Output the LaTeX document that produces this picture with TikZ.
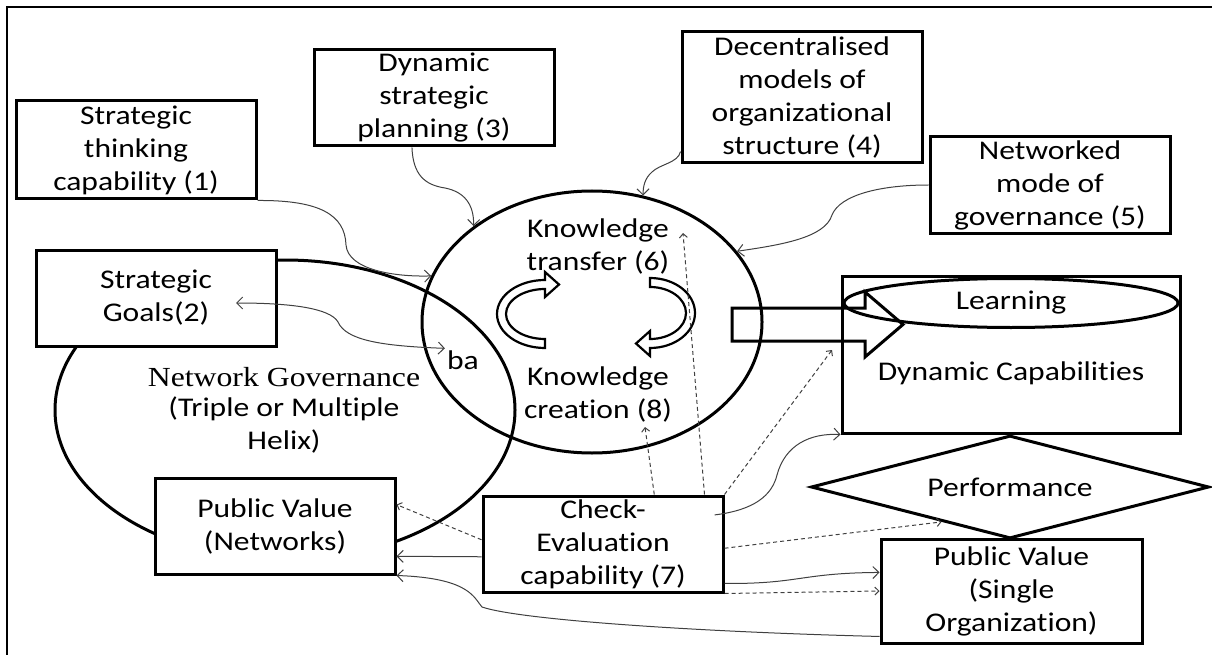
\documentclass[tikz,border=0pt]{standalone}
\usepackage{fontspec}
\setmainfont[FakeStretch=1.17,Ligatures=NoCommon]{Carlito}
\newfontfamily\tnrfont[FakeStretch=1.15]{Liberation Serif}
\usetikzlibrary{shapes.geometric,arrows.meta}
\tikzset{
  box/.style={draw,line width=3pt,fill=white,align=center,inner sep=0pt},
  oval/.style={draw,ellipse,line width=3pt,inner sep=0pt},
  con/.style={draw=black!75,line width=1pt,>={Straight Barb[length=6pt,width=12pt]},->},
  dcon/.style={con,dash pattern=on 4pt off 3pt,>={Straight Barb[length=4pt,width=8pt]}},
  blk/.style={draw,line width=2.2pt,fill=white,line join=miter},
}
\begin{document}
\begin{tikzpicture}[x=1pt,y=1pt,yscale=-1,font=\fontsize{27}{33}\selectfont]
\useasboundingbox (0,0) rectangle (1212,655);
%Frame
\draw[line width=2pt] (1212,7) -- (7,7) -- (7,655);

%Shape: Ellipse (network governance)
\node[oval,minimum width=460,minimum height=300] (ng) at (285,410) {};
%Shape: Ellipse (knowledge)
\node[oval,minimum width=340,minimum height=262] (kc) at (592,322) {};

%Shape: Rectangles
\node[box,minimum width=240,minimum height=98] (st1) at (136,150) {Strategic\\thinking\\capability (1)};
\node[box,minimum width=240,minimum height=96] (plan3) at (434,98) {Dynamic\\strategic\\planning (3)};
\node[box,minimum width=240,minimum height=131] (dec4) at (802,97.5) {Decentralised\\models of\\organizational\\structure (4)};
\node[box,minimum width=240,minimum height=96] (net5) at (1050,185) {Networked\\mode of\\governance (5)};
\node[box,minimum width=240,minimum height=96] (goal2) at (156,298) {Strategic\\Goals(2)};
\node[box,minimum width=240,minimum height=96] (pvn) at (275,526) {Public Value\\(Networks)};
\node[box,minimum width=240,minimum height=96] (chk) at (603,544) {Check-\\Evaluation\\capability (7)};
\node[box,minimum width=261,minimum height=104] (pvs) at (1011.5,591) {Public Value\\(Single\\Organization)};
\node[box,fill=none,minimum width=338,minimum height=157] (dyn) at (1011,354.5) {};
\node[oval,minimum width=334,minimum height=49] (learn) at (1011,303) {Learning};
\node[draw,diamond,line width=3pt,fill=white,inner sep=0pt,shape aspect=3.86,
  minimum width=398,minimum height=103] (perf) at (1010,487) {Performance};

% Text Node
\node (dyntxt) at (1011,373) {Dynamic Capabilities};
\node[font=\tnrfont\fontsize{27.6}{33}\selectfont] (ngt) at (284,377) {Network Governance};
\node[align=center] (ngs) at (284,425) {(Triple or Multiple\\Helix)};
\node[align=center] (kt) at (598,246) {Knowledge\\transfer (6)};
\node[align=center] (kcr) at (598,394) {Knowledge\\creation (8)};
\node[inner sep=2pt] (ba) at (463,360) {ba};

%Curved Arrows
\draw[blk] (545,348) arc[start angle=90,end angle=270,x radius=48,y radius=34] -- (545,272) -- (559,284.5) -- (545,297) -- (545,289) arc[start angle=270,end angle=90,x radius=39,y radius=25] -- cycle;
\draw[blk] (650,278) arc[start angle=270,end angle=450,x radius=45,y radius=35] -- (650,356) -- (636,343.5) -- (650,331) -- (650,339) arc[start angle=90,end angle=-90,x radius=36,y radius=26] -- cycle;
%Block Arrow
\draw[line width=3pt,line join=miter] (732,308) -- (865,308) -- (865,292) -- (903,324.5) -- (865,357) -- (865,341) -- (732,341) -- cycle;

%Free ends
\coordinate (gtip) at (236,303);
\coordinate (c8) at (645,427);
\coordinate (c6) at (683,233);
\coordinate (cdyn) at (832,350);

%Curve Lines
\draw[con] (st1.south east) .. controls (320,200) and (345,215) .. (346,245) .. controls (348,270) and (395,277) .. (kc.164);
\draw[con] (plan3.246) .. controls (413,175) and (425,185) .. (445,188) .. controls (465,192) and (474,205) .. (kc.141);
\draw[con] (dec4.204) .. controls (678,163) and (660,164) .. (652,172) .. controls (645,178) and (643,186) .. (kc.68);
\draw[con] (net5.west) .. controls (880,185) and (840,195) .. (832,215) .. controls (825,238) and (780,245) .. (kc.26);
\draw[con,<->] (gtip) .. controls (290,303) and (330,308) .. (338,322) .. controls (346,340) and (380,346) .. (ba.north west);
\draw[con] (chk.186) -- (pvn.-14);
\draw[con,shorten <=-10pt] (chk.14) .. controls (755,510) and (772,495) .. (777,475) .. controls (785,445) and (810,433) .. (dyn.south west);
\draw[con] (chk.-18) .. controls (800,584) and (800,573) .. (pvs.172);
\draw[con] (pvs.199) .. controls (700,632) and (520,620) .. (482,607) .. controls (474,598) and (470,578) .. (pvn.south east);

%Dashed Lines
\draw[dcon] (chk.44) -- (c8);
\draw[dcon] (chk.26) -- (c6);
\draw[dcon] (chk.north east) -- (cdyn);
\draw[dcon] (chk.178) -- (pvn.10);
\draw[dcon] (chk.-2) -- (perf.207);
\draw[dcon] (chk.south east) -- (pvs.west);
\end{tikzpicture}
\end{document}
